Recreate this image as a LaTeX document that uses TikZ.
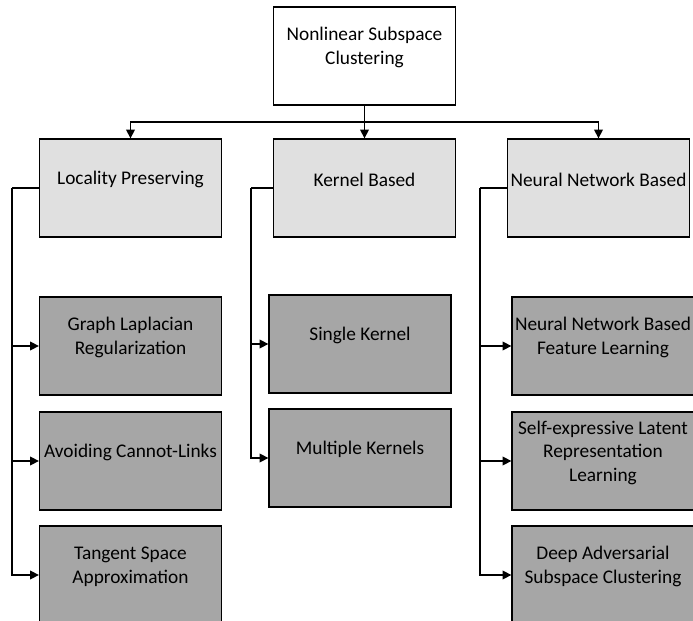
\documentclass[tikz,border=0pt]{standalone}
\usepackage{fontspec}
\setmainfont{Carlito}
\usetikzlibrary{arrows.meta,positioning}
\definecolor{catgray}{RGB}{224,224,224}
\definecolor{leafgray}{RGB}{166,166,166}
\newcommand{\boxpad}{\par\vspace*{9.5pt}}

\begin{document}
\begin{tikzpicture}[x=0.02cm,y=-0.02cm,line width=0.75pt,>={Triangle[length=5pt,width=5pt]},
  box/.style={draw,minimum width=3.64cm,minimum height=1.96cm,text width=3.6cm,align=flush center,inner xsep=0pt,inner ysep=1pt,font=\fontsize{11}{13.4}\selectfont,execute at end node=\boxpad},
  topbox/.style={box,fill=white},catbox/.style={box,fill=catgray},leafbox/.style={box,fill=leafgray}]
\useasboundingbox (0,0) rectangle (693,621);
\node[topbox] (root) at (364.5,56) {Nonlinear Subspace\\Clustering};
\node[catbox] (loc) at (130.5,188) {Locality Preserving};
\node[catbox] (kern) at (364.5,188) {Kernel Based};
\node[catbox] (nn) at (598.5,188) {Neural Network Based};
\node[leafbox] (glr) at (130.5,346) {Graph Laplacian\\Regularization};
\node[leafbox] (acl) at (130.5,461) {Avoiding Cannot-Links};
\node[leafbox] (tsa) at (130.5,575) {Tangent Space\\Approximation};
\node[leafbox] (sk) at (360,344) {Single Kernel};
\node[leafbox] (mk) at (360,458) {Multiple Kernels};
\node[leafbox] (nfl) at (603,346) {Neural Network Based\\Feature Learning};
\node[leafbox] (slr) at (603,461) {Self-expressive Latent\\Representation\\Learning};
\node[leafbox] (das) at (603,575) {Deep Adversarial\\Subspace Clustering};
\coordinate (bus) at (364.5,122);
\coordinate (locbus) at (12,188);
\coordinate (kernbus) at (251,188);
\coordinate (nnbus) at (480,188);
% root to the three groups
\draw[->] (root) -- (kern);
\draw[->] (bus) -| (loc);
\draw[->] (bus) -| (nn);
% groups to their methods
\draw (loc) -- (locbus);
\draw[->] (locbus) |- (glr);
\draw[->] (locbus) |- (acl);
\draw[->] (locbus) |- (tsa);
\draw (kern) -- (kernbus);
\draw[->] (kernbus) |- (sk);
\draw[->] (kernbus) |- (mk);
\draw (nn) -- (nnbus);
\draw[->] (nnbus) |- (nfl);
\draw[->] (nnbus) |- (slr);
\draw[->] (nnbus) |- (das);
\end{tikzpicture}
\end{document}
